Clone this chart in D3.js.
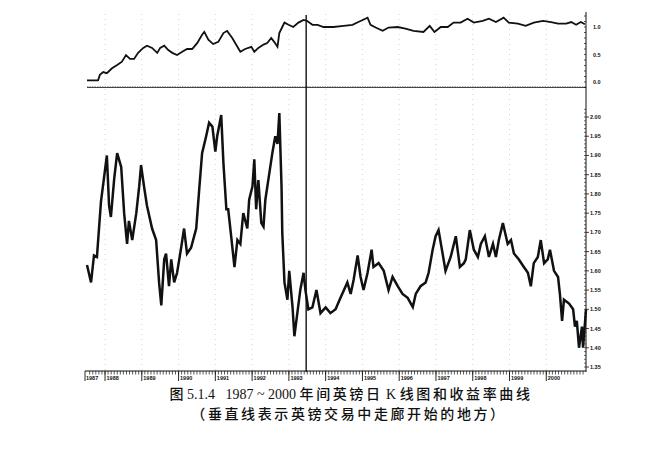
<!DOCTYPE html>
<meta charset="utf-8">
<title>GBP 1987-2000</title>
<script src="https://d3js.org/d3.v7.min.js"></script>
<style>
  body { margin: 0; background: #fff; }
  .tick-lbl { font-family: "Liberation Sans", Arial, sans-serif; font-size: 5.5px; font-weight: bold; fill: #111; }
  .cap { font-family: "Liberation Serif", "Noto Sans CJK SC", serif; font-size: 14px; fill: #111; white-space: pre; }
  .cjk { font-family: "Noto Sans CJK SC", sans-serif; font-weight: 500; }
</style>
<body>
<div id="chart"></div>
<script>
// daily GBP closes (decimal years)
var priceT = [1987.51,1987.62,1987.70,1987.78,1987.89,1987.97,1988.05,1988.11,1988.16,1988.25,
  1988.33,1988.44,1988.52,1988.60,1988.65,1988.74,1988.85,1988.93,1988.98,1989.06,
  1989.14,1989.28,1989.39,1989.47,1989.53,1989.61,1989.66,1989.74,1989.80,1989.88,
  1989.96,1990.07,1990.15,1990.23,1990.34,1990.48,1990.56,1990.64,1990.75,1990.83,
  1990.92,1991.00,1991.05,1991.16,1991.22,1991.30,1991.35,1991.43,1991.52,1991.60,
  1991.68,1991.76,1991.87,1991.92,1992.01,1992.06,1992.11,1992.17,1992.25,1992.31,
  1992.36,1992.44,1992.55,1992.63,1992.69,1992.74,1992.80,1992.82,1992.88,1992.96,
  1993.01,1993.10,1993.15,1993.23,1993.31,1993.40,1993.45,1993.53,1993.64,1993.75,
  1993.86,1994.00,1994.13,1994.27,1994.38,1994.59,1994.68,1994.76,1994.87,1994.95,
  1995.03,1995.14,1995.25,1995.30,1995.44,1995.58,1995.71,1995.82,1995.96,1996.09,
  1996.23,1996.37,1996.45,1996.58,1996.72,1996.80,1996.91,1996.99,1997.07,1997.18,
  1997.26,1997.40,1997.54,1997.65,1997.76,1997.81,1997.92,1998.03,1998.14,1998.22,
  1998.33,1998.44,1998.55,1998.63,1998.71,1998.82,1998.95,1999.04,1999.12,1999.25,
  1999.39,1999.50,1999.58,1999.66,1999.77,1999.85,1999.94,2000.04,2000.10,2000.21,
  2000.32,2000.37,2000.43,2000.48,2000.62,2000.73,2000.78,2000.83,2000.89,2000.97,
  2001.00,2001.08];
var priceClose = [1.615,1.57,1.64,1.636,1.78,1.84,1.90,1.77,1.74,1.84,
  1.906,1.87,1.75,1.67,1.73,1.68,1.75,1.82,1.875,1.82,
  1.77,1.71,1.68,1.57,1.51,1.63,1.645,1.56,1.63,1.57,
  1.595,1.66,1.71,1.645,1.66,1.71,1.81,1.906,1.95,1.985,
  1.975,1.91,1.95,2.005,1.88,1.76,1.76,1.69,1.61,1.68,
  1.67,1.75,1.71,1.785,1.82,1.89,1.76,1.836,1.725,1.715,
  1.785,1.836,1.906,1.95,1.93,2.01,1.82,1.70,1.57,1.525,
  1.60,1.505,1.43,1.49,1.55,1.595,1.55,1.50,1.505,1.55,
  1.49,1.505,1.49,1.50,1.525,1.57,1.54,1.576,1.64,1.584,
  1.55,1.595,1.655,1.61,1.62,1.60,1.55,1.584,1.56,1.54,
  1.53,1.506,1.54,1.56,1.57,1.595,1.655,1.69,1.706,1.645,
  1.60,1.636,1.69,1.61,1.62,1.63,1.706,1.655,1.636,1.67,
  1.69,1.636,1.67,1.636,1.68,1.724,1.67,1.68,1.645,1.63,
  1.61,1.595,1.56,1.62,1.636,1.68,1.62,1.63,1.655,1.60,
  1.584,1.54,1.47,1.525,1.515,1.50,1.455,1.47,1.40,1.455,
  1.40,1.50];

// cumulative return curve (top panel)
var retT = [1987.51,1987.81,1987.86,1987.95,1988.05,1988.19,1988.33,1988.46,1988.57,1988.68,
  1988.79,1988.90,1989.04,1989.14,1989.28,1989.42,1989.50,1989.61,1989.72,1989.83,
  1989.96,1990.10,1990.23,1990.37,1990.51,1990.64,1990.70,1990.81,1990.94,1991.08,
  1991.22,1991.32,1991.46,1991.60,1991.68,1991.81,1991.98,1992.06,1992.17,1992.31,
  1992.41,1992.52,1992.60,1992.69,1992.74,1992.82,1992.88,1992.99,1993.12,1993.26,
  1993.40,1993.50,1993.64,1993.78,1993.94,1994.21,1994.49,1994.73,1994.89,1995.14,
  1995.22,1995.36,1995.55,1995.71,1995.96,1996.17,1996.39,1996.66,1996.83,1996.96,
  1997.13,1997.32,1997.48,1997.67,1997.86,1998.03,1998.27,1998.44,1998.63,1998.84,
  1998.98,1999.23,1999.44,1999.66,1999.91,2000.13,2000.32,2000.54,2000.68,2000.81,
  2000.94,2001.05];
var retVal = [0.03,0.03,0.13,0.18,0.16,0.25,0.31,0.37,0.49,0.42,
  0.42,0.53,0.62,0.66,0.62,0.53,0.62,0.66,0.58,0.53,
  0.49,0.55,0.60,0.60,0.71,0.86,0.91,0.77,0.69,0.73,
  0.89,0.93,0.80,0.64,0.55,0.60,0.64,0.55,0.62,0.68,
  0.71,0.80,0.73,0.64,0.89,1.00,1.08,1.04,1.00,1.08,
  1.13,1.11,1.04,1.04,1.00,1.00,1.02,1.04,1.09,1.17,
  1.04,0.99,0.93,0.99,1.00,0.97,0.93,0.91,1.02,0.91,
  1.00,1.00,1.08,1.08,1.15,1.08,1.11,1.15,1.09,1.17,
  1.08,1.06,1.02,1.08,1.11,1.09,1.06,1.06,1.09,1.04,
  1.09,1.05];

var years = [1988,1989,1990,1991,1992,1993,1994,1995,1996,1997,1998,1999,2000];
var priceTicks = [1.35,1.40,1.45,1.50,1.55,1.60,1.65,1.70,1.75,1.80,1.85,1.90,1.95,2.00];
var retTicks = [0.0, 0.5, 1.0];
var corridorStart = 1993.47;   // where the corridor begins

var W = 665, H = 458;
var xL = 87, xR = 586;

var svg = d3.select("#chart").append("svg")
    .attr("width", W).attr("height", H);

var x = d3.scaleLinear().domain([1987.51, 2001.08]).range([xL, xR]);
var yTop = d3.scaleLinear().domain([0, 1]).range([82, 27]);
var yMain = d3.scaleLinear().domain([1.35, 2.00]).range([367, 117]);

// faint dotted year grid
svg.append("g").selectAll("line").data(years).join("line")
    .attr("x1", d => x(d)).attr("x2", d => x(d))
    .attr("y1", 14).attr("y2", 370)
    .attr("stroke", "#c8c8c8").attr("stroke-width", 0.8)
    .attr("stroke-dasharray", "1,4");

// panel separator
svg.append("line")
    .attr("x1", xL).attr("x2", xR).attr("y1", 87.5).attr("y2", 87.5)
    .attr("stroke", "#444").attr("stroke-width", 1);
svg.append("line")
    .attr("x1", xL).attr("x2", xR).attr("y1", 86.5).attr("y2", 86.5)
    .attr("stroke", "#999").attr("stroke-width", 0.8).attr("stroke-dasharray", "1.5,1");

// top panel: return curve
var retLine = d3.line().x((d, i) => x(retT[i])).y(d => yTop(d));
svg.append("path").datum(retVal)
    .attr("fill", "none").attr("stroke", "#111").attr("stroke-width", 1.8)
    .attr("stroke-linejoin", "miter")
    .attr("d", retLine);

// main panel: price
var priceLine = d3.line().x((d, i) => x(priceT[i])).y(d => yMain(d));
svg.append("path").datum(priceClose)
    .attr("fill", "none").attr("stroke", "#111").attr("stroke-width", 2.5)
    .attr("stroke-linejoin", "miter")
    .attr("d", priceLine);

// right axes
var topAxis = svg.append("g").attr("transform", "translate(" + xR + ",0)");
topAxis.append("line").attr("y1", 12).attr("y2", 90).attr("stroke", "#111");
topAxis.selectAll(".mt").data(d3.range(-0.1, 1.25, 0.1)).join("line")
    .attr("x1", -2).attr("x2", 0)
    .attr("y1", d => yTop(d)).attr("y2", d => yTop(d))
    .attr("stroke", "#111").attr("stroke-width", 0.7);
topAxis.selectAll("text").data(retTicks).join("text")
    .attr("class", "tick-lbl")
    .attr("x", 7).attr("y", d => yTop(d) + 2)
    .text(d => d.toFixed(1));

var mainAxis = svg.append("g").attr("transform", "translate(" + xR + ",0)");
mainAxis.append("line").attr("y1", 90).attr("y2", 372).attr("stroke", "#111");
mainAxis.selectAll(".mt").data(d3.range(1.35, 2.03, 0.01)).join("line")
    .attr("x1", -2).attr("x2", 0)
    .attr("y1", d => yMain(d)).attr("y2", d => yMain(d))
    .attr("stroke", "#111").attr("stroke-width", 0.6);
mainAxis.selectAll(".Mt").data(priceTicks).join("line")
    .attr("x1", 0).attr("x2", 3)
    .attr("y1", d => yMain(d)).attr("y2", d => yMain(d))
    .attr("stroke", "#111").attr("stroke-width", 0.8);
mainAxis.selectAll("text").data(priceTicks).join("text")
    .attr("class", "tick-lbl")
    .attr("x", 4).attr("y", d => yMain(d) + 2)
    .text(d => d.toFixed(2));

// corridor start vertical line
svg.append("line")
    .attr("x1", x(corridorStart)).attr("x2", x(corridorStart))
    .attr("y1", 15).attr("y2", 372)
    .attr("stroke", "#111").attr("stroke-width", 1.4);

// bottom date axis
var bx = svg.append("g");
bx.append("line").attr("x1", xL - 2).attr("x2", xR)
    .attr("y1", 371).attr("y2", 371).attr("stroke", "#111").attr("stroke-width", 1.2);
var months = d3.range(1987 + 7 / 12, 2001.05, 1 / 12);
bx.selectAll(".mt").data(months).join("line")
    .attr("x1", d => x(d)).attr("x2", d => x(d))
    .attr("y1", 371).attr("y2", 374.5)
    .attr("stroke", "#111").attr("stroke-width", 0.7);
bx.selectAll(".Mt").data(years).join("line")
    .attr("x1", d => x(d)).attr("x2", d => x(d))
    .attr("y1", 371).attr("y2", 381)
    .attr("stroke", "#111").attr("stroke-width", 0.9);
bx.append("line").attr("x1", xL - 2).attr("x2", xL - 2)
    .attr("y1", 371).attr("y2", 381).attr("stroke", "#111").attr("stroke-width", 0.9);
bx.selectAll("text").data([1987].concat(years)).join("text")
    .attr("class", "tick-lbl")
    .attr("x", d => d === 1987 ? xL - 1 : x(d) + 1.5)
    .attr("y", 380)
    .text(d => d);

// caption
var cap1 = svg.append("text").attr("class", "cap")
    .attr("x", 351).attr("y", 399).attr("text-anchor", "middle");
cap1.append("tspan").attr("class", "cjk").text("图");
cap1.append("tspan").text(" 5.1.4   1987 ~ 2000 ");
cap1.append("tspan").attr("class", "cjk").attr("letter-spacing", 2.6).text("年间英镑日");
cap1.append("tspan").text(" K ");
cap1.append("tspan").attr("class", "cjk").attr("letter-spacing", 2.6).text("线图和收益率曲线");

svg.append("text").attr("class", "cap cjk")
    .attr("x", 349).attr("y", 419).attr("text-anchor", "middle")
    .attr("letter-spacing", 2.6)
    .text("（垂直线表示英镑交易中走廊开始的地方）");
</script>
</body>
